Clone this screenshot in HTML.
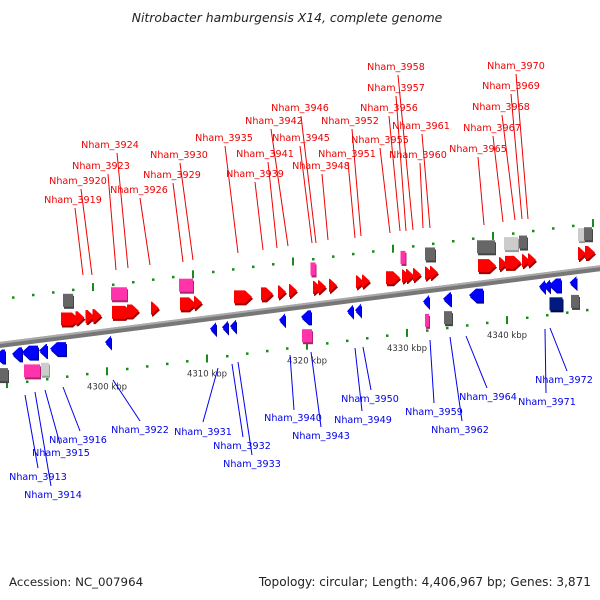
<!DOCTYPE html>
<html><head><meta charset="utf-8"><style>
html,body{margin:0;padding:0;background:#fff;width:600px;height:600px;overflow:hidden}
svg text{font-family:"DejaVu Sans","Liberation Sans",sans-serif}
</style></head><body>
<svg id="chart" width="600" height="600" viewBox="0 0 600 600" xmlns="http://www.w3.org/2000/svg">
<text x="287" y="22" text-anchor="middle" font-size="12.4" font-style="italic" fill="#222">Nitrobacter hamburgensis X14, complete genome</text>
<g id="ticks"></g>
<g id="backbone">
<line x1="-5" y1="345.6" x2="605" y2="267.6" stroke="#777" stroke-width="6"/>
<line x1="-5" y1="343.6" x2="605" y2="265.6" stroke="#aaa" stroke-width="2"/>
</g>
<g id="genes"></g>
<g id="labels-fwd" fill="#e00" font-size="9.6"></g>
<g id="labels-rev" fill="#00e" font-size="9.6"></g>
<text x="9" y="586" font-size="11.8" fill="#222">Accession: NC_007964</text>
<text x="591" y="586" text-anchor="end" font-size="12.1" fill="#222">Topology: circular; Length: 4,406,967 bp; Genes: 3,871</text>
</svg>
<script>
// ---- data ----
const tickKbp = [4288,4290,4292,4294,4296,4298,4300,4302,4304,4306,4308,4310,4312,4314,4316,4318,4320,4322,4324,4326,4328,4330,4332,4334,4336,4338,4340,4342,4344,4346,4348,4350];
const majorKbp = [4290,4300,4310,4320,4330,4340,4350];
const labelKbp = [4300,4310,4320,4330,4340];
const majorLabels = ["4300 kbp","4310 kbp","4320 kbp","4330 kbp","4340 kbp"];
// forward-strand CDS (arrows)
const fwdPos = [4296.3,4297.3,4298.3,4299.0,4301.5,4302.6,4304.8,4308.1,4309.1,4313.6,4316.0,4317.5,4318.6,4321.0,4321.5,4322.6,4325.3,4325.9,4328.6,4329.9,4330.3,4331.0,4332.2,4332.7,4338.0,4339.6,4340.6,4341.9,4342.5,4347.5,4348.3];
const fwdLen = [1.8,0.9,0.9,0.9,2.0,1.2,0.8,1.6,0.8,1.8,1.2,0.8,0.8,0.8,0.8,0.8,0.8,0.8,1.4,0.8,0.8,0.8,0.8,0.8,1.8,0.8,1.6,0.8,0.8,0.8,1.0];
// reverse-strand CDS (arrows)
const revPos = [4289.3,4291.0,4292.3,4293.6,4295.1,4300.1,4310.6,4311.8,4312.6,4317.5,4319.9,4324.3,4325.1,4331.9,4334.0,4336.9,4343.5,4344.0,4344.8,4346.6];
const revLen = [1.0,1.0,1.6,0.8,1.6,0.6,0.6,0.6,0.6,0.6,1.0,0.6,0.6,0.6,0.8,1.4,0.6,0.6,1.2,0.7];
// other features (boxes) in outer lanes
const fBoxPos = [4296.1,4301.2,4307.9,4320.6,4329.6,4332.3,4337.9,4340.4,4341.6,4347.4,4348.1];
const fBoxLen = [1.0,1.6,1.4,0.5,0.5,1.0,1.8,1.4,0.8,0.6,0.8];
const fBoxType = ["gray","pink","pink","pink","pink","gray","gray","light","gray","light","gray"];
const rBoxPos = [4289.6,4292.5,4293.8,4320.0,4332.0,4334.1,4344.9,4346.8];
const rBoxLen = [1.0,1.6,0.8,1.0,0.3,0.8,1.3,0.8];
const rBoxType = ["gray","pink","light","pink","pink","gray","navy","gray"];

// ---- scales ----
const NS="http://www.w3.org/2000/svg";
function xOf(k){return 107+(k-4300)*10;}
function yB(x){return 345-0.128*x;}
function mk(tag,attrs,parent){const e=document.createElementNS(NS,tag);for(const k in attrs)e.setAttribute(k,attrs[k]);parent.appendChild(e);return e;}
const colors={gray:["#666","#444"],pink:["#ff33aa","#b0206f"],light:["#ccc","#999"],navy:["#001a80","#000a40"],red:["#ff0000","#a00000"],blue:["#0000ff","#0000a0"]};

const tg=document.getElementById('ticks');
tickKbp.forEach(k=>{
  const maj=majorKbp.indexOf(k)>=0;
  const xl=xOf(k), xu=xl-14;
  const yl=yB(xl)+40, yu=yB(xu)-46;
  const a=mk('rect',maj?{x:xl-1,y:yl-4,width:2,height:8,fill:'#1a8a1a'}:{x:xl-1,y:yl-1,width:2.5,height:2.5,fill:'#1a8a1a'},tg);
  
  
  const b=mk('rect',maj?{x:xu-1,y:yu-4,width:2,height:8,fill:'#1a8a1a'}:{x:xu-1,y:yu-1,width:2.5,height:2.5,fill:'#1a8a1a'},tg);
  
  
});
labelKbp.forEach((k,i)=>{
  const x=xOf(k);
  const t=mk('text',{x:x,y:yB(x)+58,'text-anchor':'middle','font-size':'8.5',fill:'#333'},tg);
  t.textContent=majorLabels[i];
  
  
});

const gg=document.getElementById('genes');
function arrow(k,len,dir,off,col){
  const xc=xOf(k), w=Math.max(len*10,6), h=13, yc=yB(xc)+off;
  const x0=xc-w/2, x1=xc+w/2, head=Math.min(w,7);
  let pts;
  if(dir>0) pts=[[x0,yc-h/2],[x1-head,yc-h/2],[x1,yc],[x1-head,yc+h/2],[x0,yc+h/2]];
  else pts=[[x1,yc-h/2],[x0+head,yc-h/2],[x0,yc],[x0+head,yc+h/2],[x1,yc+h/2]];
  const s=pts.map(p=>p[0]+','+p[1]).join(' ');
  const sh=pts.map(p=>(p[0]+1)+','+(p[1]+2)).join(' ');
  const g=mk('g',{},gg);
  
  
  mk('polygon',{points:sh,fill:colors[col][1]},g);
  mk('polygon',{points:s,fill:colors[col][0]},g);
}
function box(k,len,off,type){
  const xc=xOf(k), w=Math.max(len*10,4), h=13, yc=yB(xc)+off;
  const g=mk('g',{},gg);
  
  
  mk('rect',{x:xc-w/2+1,y:yc-h/2+2,width:w,height:h,fill:colors[type][1]},g);
  mk('rect',{x:xc-w/2,y:yc-h/2,width:w,height:h,fill:colors[type][0]},g);
}
fwdPos.forEach((k,i)=>arrow(k,fwdLen[i],1,-17,'red'));
revPos.forEach((k,i)=>arrow(k,revLen[i],-1,11,'blue'));
fBoxPos.forEach((k,i)=>box(k,fBoxLen[i],-36,fBoxType[i]));
rBoxPos.forEach((k,i)=>box(k,rBoxLen[i],30,rBoxType[i]));

// labels (layout annotations)
const fwdLabels=[["Nham_3919",73,203,75,208,83,275],["Nham_3920",78,184,81,189,92,275],["Nham_3923",101,169,108,174,116,270],["Nham_3924",110,148,117,153,128,268],["Nham_3926",139,193,140,198,150,265],["Nham_3929",172,178,173,183,183,262],["Nham_3930",179,158,180,163,193,260],["Nham_3935",224,141,225,146,238,253],["Nham_3939",255,177,255,182,263,250],["Nham_3941",265,157,268,162,277,248],["Nham_3942",274,124,271,129,288,246],["Nham_3945",301,141,300,146,312,243],["Nham_3946",300,111,301,116,316,243],["Nham_3948",321,169,322,174,328,240],["Nham_3951",347,157,348,162,355,238],["Nham_3952",350,124,352,129,361,236],["Nham_3955",380,143,380,148,390,233],["Nham_3956",389,111,389,116,400,231],["Nham_3957",396,91,396,96,406,231],["Nham_3958",396,70,398,75,413,230],["Nham_3960",418,158,420,163,423,228],["Nham_3961",421,129,422,134,430,228],["Nham_3965",478,152,478,157,484,225],["Nham_3967",492,131,493,136,503,222],["Nham_3968",501,110,502,115,515,220],["Nham_3969",511,89,511,94,522,219],["Nham_3970",516,69,516,74,528,219]];
const revLabels=[["Nham_3913",38,480,25,395,38,468],["Nham_3914",53,498,35,392,51,486],["Nham_3915",61,456,45,390,60,444],["Nham_3916",78,443,63,387,80,431],["Nham_3922",140,433,113,380,140,421],["Nham_3931",203,435,218,368,203,422],["Nham_3932",242,449,232,364,243,437],["Nham_3933",252,467,238,362,252,455],["Nham_3940",293,421,290,355,294,410],["Nham_3943",321,439,311,352,321,427],["Nham_3949",363,423,355,348,362,411],["Nham_3950",370,402,363,347,371,390],["Nham_3959",434,415,430,340,434,403],["Nham_3962",460,433,450,337,462,421],["Nham_3964",488,400,466,336,487,388],["Nham_3971",547,405,545,329,546,393],["Nham_3972",564,383,550,328,567,371]];
function labels(arr,id,col){
  const g=document.getElementById(id);
  arr.forEach(L=>{
    const l=mk('line',{x1:L[3],y1:L[4],x2:L[5],y2:L[6],stroke:col,'stroke-width':1},g);
    
    
    const t=mk('text',{x:L[1],y:L[2],'text-anchor':'middle'},g);
    t.textContent=L[0];
    
    
  });
}
labels(fwdLabels,'labels-fwd','#e00');
labels(revLabels,'labels-rev','#00e');
</script>
</body></html>
